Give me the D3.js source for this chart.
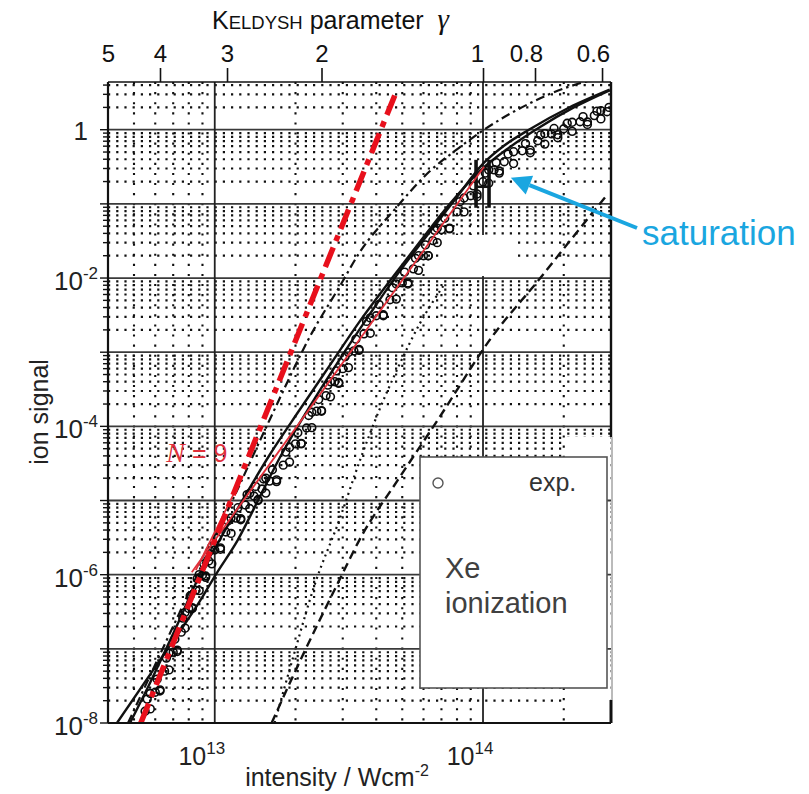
<!DOCTYPE html>
<html>
<head>
<meta charset="utf-8">
<script src="https://cdn.jsdelivr.net/npm/d3@7"></script>
<style>
  body { margin: 0; background: #fff; }
  svg { display: block; font-family: "Liberation Sans", Arial, sans-serif; }
</style>
</head>
<body>
<svg id="chart" width="809" height="794"></svg>
<script>
// ---- axis ranges and tick labels ----
const intensityDomain = [4e12, 3e14];          // W/cm^2
const signalDomain = [1e-8, 4.4];
const gammaTicks = [5, 4, 3, 2, 1, 0.8, 0.6];   // Keldysh parameter
const intensityLabels = [1e13, 1e14];
const signalLabels = [1, 1e-2, 1e-4, 1e-6, 1e-8];

// ---- experimental Xe ion yield (open circles) ----
// band centre
const expIntensity = [
  5.5e12, 5.75e12, 6.0e12, 6.25e12, 6.5e12, 6.75e12, 7.0e12, 7.25e12, 7.5e12, 7.75e12,
  8.0e12, 8.25e12, 8.5e12, 8.75e12, 9.0e12, 9.25e12, 9.5e12, 9.75e12, 1.0e13, 1.05e13,
  1.1e13, 1.15e13, 1.2e13, 1.25e13, 1.3e13, 1.35e13, 1.4e13, 1.45e13, 1.5e13, 1.55e13,
  1.6e13, 1.7e13, 1.8e13, 1.9e13, 2.0e13, 2.1e13, 2.2e13, 2.3e13, 2.4e13, 2.5e13,
  2.6e13, 2.7e13, 2.8e13, 2.9e13, 3.0e13, 3.15e13, 3.3e13, 3.45e13, 3.6e13, 3.8e13,
  4.0e13, 4.25e13, 4.5e13, 4.75e13, 5.0e13, 5.25e13, 5.5e13, 5.75e13, 6.0e13, 6.25e13,
  6.5e13, 6.75e13, 7.0e13, 7.5e13, 8.0e13, 8.5e13, 9.0e13, 9.5e13, 1.0e14, 1.05e14,
  1.1e14, 1.15e14, 1.2e14, 1.3e14, 1.4e14, 1.5e14, 1.6e14, 1.7e14, 1.8e14, 1.9e14,
  2.0e14, 2.15e14, 2.3e14, 2.45e14, 2.6e14, 2.75e14, 2.9e14
];
const expSignal = [
  1.44e-8, 2.5e-8, 2.6e-8, 2.7e-8, 5.0e-8, 8.7e-8, 9.0e-8, 9.2e-8, 1.68e-7, 3.1e-7,
  3.5e-7, 3.5e-7, 6.2e-7, 1.0e-6, 9.9e-7, 9.2e-7, 1.53e-6, 2.4e-6, 2.15e-6, 2.3e-6,
  3.76e-6, 5.8e-6, 5.8e-6, 5.7e-6, 8.7e-6, 1.25e-5, 1.15e-5, 1.03e-5, 1.43e-5, 2.0e-5,
  1.83e-5, 1.9e-5, 3.0e-5, 5.2e-5, 5.8e-5, 5.9e-5, 9.5e-5, 1.55e-4, 1.6e-4, 1.63e-4,
  2.6e-4, 4.0e-4, 4.0e-4, 3.9e-4, 6.0e-4, 9.9e-4, 1.04e-3, 1.09e-3, 1.77e-3, 2.9e-3,
  3.1e-3, 3.2e-3, 5.1e-3, 8.3e-3, 8.6e-3, 8.6e-3, 1.33e-2, 2.0e-2, 2.0e-2, 2.0e-2,
  3.2e-2, 4.7e-2, 4.5e-2, 4.7e-2, 7.8e-2, 0.12, 0.129, 0.136, 0.199, 0.287,
  0.288, 0.277, 0.37, 0.505, 0.52, 0.53, 0.71, 0.885, 0.88, 0.857,
  1.03, 1.26, 1.28, 1.27, 1.55, 1.81, 1.75
];
// upper edge of the band
const expUpperIntensity = [
  5.6e12, 6.1e12, 6.6e12, 7.1e12, 7.6e12, 8.1e12, 8.6e12, 9.1e12, 9.6e12, 1.02e13,
  1.12e13, 1.22e13, 1.32e13, 1.42e13, 1.52e13, 1.64e13, 1.84e13, 2.04e13, 2.24e13, 2.44e13,
  2.64e13, 2.84e13, 3.06e13, 3.36e13, 3.68e13, 4.1e13, 4.6e13, 5.1e13, 5.6e13, 6.1e13,
  6.6e13, 7.2e13, 8.2e13, 9.2e13, 1.02e14, 1.12e14, 1.24e14, 1.44e14, 1.64e14, 1.84e14,
  2.06e14, 2.36e14, 2.66e14, 2.95e14
];
const expUpperSignal = [
  2.1e-8, 3.9e-8, 7.5e-8, 1.35e-7, 2.6e-7, 5.2e-7, 8.8e-7, 1.4e-6, 2.1e-6, 3.1e-6,
  5.3e-6, 8.0e-6, 1.2e-5, 1.55e-5, 1.95e-5, 2.6e-5, 4.5e-5, 8.2e-5, 1.4e-4, 2.3e-4,
  3.6e-4, 5.6e-4, 8.7e-4, 1.5e-3, 2.6e-3, 4.4e-3, 7.4e-3, 1.2e-2, 1.85e-2, 2.8e-2,
  4.4e-2, 6.4e-2, 0.107, 0.175, 0.26, 0.36, 0.47, 0.65, 0.85, 1.04,
  1.22, 1.5, 1.78, 2.0
];
// lower edge of the band
const expLowerIntensity = [
  5.75e12, 6.25e12, 6.75e12, 7.25e12, 7.75e12, 8.25e12, 8.75e12, 9.25e12, 9.75e12, 1.05e13,
  1.15e13, 1.25e13, 1.35e13, 1.45e13, 1.55e13, 1.7e13, 1.9e13, 2.1e13, 2.3e13, 2.5e13,
  2.7e13, 2.9e13, 3.15e13, 3.45e13, 3.8e13, 4.25e13, 4.75e13, 5.25e13, 5.75e13, 6.25e13,
  6.75e13, 7.5e13, 8.5e13, 9.5e13, 1.05e14, 1.15e14, 1.3e14, 1.5e14, 1.7e14, 1.9e14,
  2.15e14, 2.45e14, 2.75e14
];
const expLowerSignal = [
  1.55e-8, 2.8e-8, 5.2e-8, 9.6e-8, 1.9e-7, 3.6e-7, 6.1e-7, 9.6e-7, 1.4e-6, 2.2e-6,
  3.6e-6, 5.5e-6, 7.8e-6, 1.0e-5, 1.26e-5, 1.8e-5, 3.3e-5, 5.8e-5, 9.6e-5, 1.6e-4,
  2.5e-4, 3.8e-4, 6.2e-4, 1.06e-3, 1.8e-3, 3.1e-3, 5.2e-3, 8.3e-3, 1.27e-2, 2.0e-2,
  3.0e-2, 4.6e-2, 7.8e-2, 0.125, 0.19, 0.26, 0.35, 0.49, 0.64, 0.78,
  0.95, 1.18, 1.4
];

// ---- theory curves: [intensity, signal] ----
const solidA = [
  [4.32e12, 1.0e-8], [6.24e12, 7.0e-8], [8.8e12, 4.4e-7], [1.017e13, 1.05e-6], [1.218e13, 2.93e-6],
  [1.47e13, 1.11e-5], [1.745e13, 3.75e-5], [2.255e13, 1.83e-4], [2.915e13, 7.9e-4], [3.77e13, 3.19e-3],
  [4.87e13, 1.21e-2], [6.30e13, 4.07e-2], [7.80e13, 0.110], [1.009e14, 0.359], [1.197e14, 0.608],
  [1.483e14, 1.0], [2.088e14, 1.98], [2.966e14, 3.47]
];
const solidB = [
  [4.83e12, 1.0e-8], [5.73e12, 3.44e-8], [7.10e12, 1.79e-7], [8.8e12, 9.9e-7], [1.017e13, 2.51e-6],
  [1.238e13, 8.7e-6], [1.601e13, 4.11e-5], [2.07e13, 1.66e-4], [2.676e13, 6.53e-4], [3.46e13, 2.56e-3],
  [4.47e13, 8.89e-3], [5.78e13, 2.99e-2], [7.47e13, 9.73e-2], [9.66e13, 0.271], [1.25e14, 0.572],
  [1.615e14, 1.064], [2.18e14, 2.0], [2.966e14, 3.4]
];
const dashDot = [
  [4.75e12, 1.0e-8], [5.73e12, 4.28e-8], [7.41e12, 3.13e-7], [9.58e12, 2.28e-6], [1.166e13, 1.02e-5],
  [1.601e13, 1.22e-4], [2.314e13, 1.88e-3], [2.915e13, 7.6e-3], [3.46e13, 2.19e-2], [4.67e13, 8.3e-2],
  [6.30e13, 0.271], [8.14e13, 0.571], [1.009e14, 1.0], [1.483e14, 2.24], [2.088e14, 3.8], [2.585e14, 4.73]
];
const dotted = [
  [1.671e13, 1.0e-8], [1.984e13, 9.0e-8], [2.354e13, 7.2e-7], [2.915e13, 5.5e-6], [3.46e13, 3.31e-5],
  [4.106e13, 1.66e-4], [4.87e13, 6.7e-4], [5.78e13, 2.34e-3], [7.16e13, 8.1e-3]
];
const dashed = [
  [1.629e13, 1.0e-8], [2.07e13, 6.62e-8], [2.915e13, 8.46e-7], [3.46e13, 2.93e-6], [4.87e13, 2.01e-5],
  [6.86e13, 1.30e-4], [1.080e14, 1.61e-3], [1.615e14, 9.46e-3], [2.275e14, 4.47e-2], [2.865e14, 0.125]
];

// ---- power-law guides (red) ----
const slope9Line = [[5.3e12, 1.0e-8], [4.75e13, 3.26]];
const fitLine = [[8.21e12, 1.08e-6], [1.009e14, 0.317]];
const tangentLine = [[8.5e12, 1.15e-6], [1.271e13, 2.14e-5]];
const orderLabelAt = [6.6e12, 3.3e-5];

// ---- saturation intensity marker ----
const satRange = [9.42e13, 1.053e14];
const satSignal = 0.17;
const satCaps = [0.0886, 0.393];
const saturationPoint = [1.27e14, 0.225];

// ---------------------------------------------------------------
const svg = d3.select("#chart");
const X0 = 108, X1 = 611, Y0 = 82, Y1 = 723;

const x = d3.scaleLog().domain(intensityDomain).range([X0, X1]);
const y = d3.scaleLog().domain(signalDomain).range([Y1, Y0]);
const gammaOf = I => Math.sqrt(1e14 / I);
const gScale = d3.scaleLog().domain(intensityDomain.map(gammaOf)).range([X0, X1]);

svg.append("defs").append("clipPath").attr("id", "plotClip")
  .append("rect").attr("x", X0).attr("y", Y0).attr("width", X1 - X0).attr("height", Y1 - Y0);

// ---- grid ----
const decadesX = [1e13, 1e14];
const minorX = [];
[1e12, 1e13, 1e14].forEach(dec => d3.range(2, 10).forEach(k => {
  const v = k * dec;
  if (v > intensityDomain[0] && v < intensityDomain[1] * 0.999) minorX.push(v);
}));
const decadesY = d3.range(-7, 1).map(e => Math.pow(10, e));
const minorY = [];
d3.range(-8, 1).forEach(e => d3.range(2, 10).forEach(k => {
  const v = k * Math.pow(10, e);
  if (v < signalDomain[1]) minorY.push(v);
}));

const grid = svg.append("g");
grid.selectAll("line.hm").data(minorY).join("line")
  .attr("x1", X0).attr("x2", X1).attr("y1", d => y(d)).attr("y2", d => y(d))
  .attr("stroke", "#111").attr("stroke-width", 2.2).attr("stroke-dasharray", "2.2,6");
grid.selectAll("line.vm").data(minorX).join("line")
  .attr("x1", d => x(d)).attr("x2", d => x(d)).attr("y1", Y0).attr("y2", Y1)
  .attr("stroke", "#111").attr("stroke-width", 2.1).attr("stroke-dasharray", "2.1,8");

// blank patch right of the legend
svg.append("rect").attr("fill", "#fff").attr("x", 567).attr("y", 437).attr("width", 43).attr("height", 284);

const solid = svg.append("g");
solid.selectAll("line.hd").data(decadesY).join("line")
  .attr("x1", X0).attr("x2", X1).attr("y1", d => y(d)).attr("y2", d => y(d))
  .attr("stroke", "#3a3a3a").attr("stroke-width", 1.8);
solid.selectAll("line.vd").data(decadesX).join("line")
  .attr("x1", d => x(d)).attr("x2", d => x(d)).attr("y1", Y0).attr("y2", Y1)
  .attr("stroke", "#222").attr("stroke-width", 1.8);
// blank patch near the saturation region
svg.append("rect").attr("fill", "#fff").attr("x", 440).attr("y", 235).attr("width", 77).attr("height", 41);

// ---- theory curves ----
const plot = svg.append("g").attr("clip-path", "url(#plotClip)");
const line = d3.line().x(d => x(d[0])).y(d => y(d[1])).curve(d3.curveMonotoneX);

plot.append("path").datum(dashed).attr("d", line).attr("fill", "none")
  .attr("stroke", "#111").attr("stroke-width", 2.4).attr("stroke-dasharray", "9,5");
plot.append("path").datum(dotted).attr("d", line).attr("fill", "none")
  .attr("stroke", "#111").attr("stroke-width", 2.2).attr("stroke-dasharray", "2,4");
plot.append("path").datum(dashDot).attr("d", line).attr("fill", "none")
  .attr("stroke", "#111").attr("stroke-width", 2.2).attr("stroke-dasharray", "9,4,2.5,4");
plot.append("path").datum(solidA).attr("d", line).attr("fill", "none")
  .attr("stroke", "#111").attr("stroke-width", 2.4);
plot.append("path").datum(solidB).attr("d", line).attr("fill", "none")
  .attr("stroke", "#111").attr("stroke-width", 2.4);

// ---- experimental points ----
const expData = expIntensity.map((v, i) => [v, expSignal[i]])
  .concat(expUpperIntensity.map((v, i) => [v, expUpperSignal[i]]))
  .concat(expLowerIntensity.map((v, i) => [v, expLowerSignal[i]]));
plot.append("g").selectAll("circle").data(expData).join("circle")
  .attr("cx", d => x(d[0])).attr("cy", d => y(d[1])).attr("r", 3.9)
  .attr("fill", "none").attr("stroke", "#0a0a0a").attr("stroke-width", 1.6);

// ---- saturation marker ----
const sat = plot.append("g").attr("stroke", "#111").attr("stroke-width", 3.6);
sat.append("line").attr("x1", x(satRange[0])).attr("x2", x(satRange[1]))
  .attr("y1", y(satSignal)).attr("y2", y(satSignal)).attr("stroke-width", 2.5);
sat.selectAll("line.cap").data(satRange).join("line")
  .attr("x1", d => x(d)).attr("x2", d => x(d))
  .attr("y1", y(satCaps[0])).attr("y2", y(satCaps[1]));

// ---- red power-law guides ----
const straight = d3.line().x(d => x(d[0])).y(d => y(d[1]));
plot.append("path").datum(fitLine).attr("d", straight)
  .attr("stroke", "#e0303a").attr("stroke-width", 1.8).attr("fill", "none");
plot.append("path").datum(tangentLine).attr("d", straight)
  .attr("stroke", "#e0303a").attr("stroke-width", 1.8).attr("fill", "none");
plot.append("path").datum(slope9Line).attr("d", straight)
  .attr("stroke", "#e8101c").attr("stroke-width", 5.5).attr("fill", "none")
  .attr("stroke-dasharray", "21,7,6,7");

svg.append("text").attr("x", x(orderLabelAt[0])).attr("y", y(orderLabelAt[1]))
  .attr("fill", "#e0303a").attr("font-size", 25)
  .call(t => {
    t.append("tspan").attr("font-family", "'Liberation Serif', serif").attr("font-style", "italic").attr("font-size", 28).text("N");
    t.append("tspan").text(" = 9");
  });

// ---- frame ----
const frame = svg.append("g").attr("fill", "none");
frame.append("line").attr("x1", X0).attr("x2", X1).attr("y1", Y0).attr("y2", Y0).attr("stroke", "#111").attr("stroke-width", 1.6);
frame.append("line").attr("x1", X0).attr("x2", X1).attr("y1", Y1).attr("y2", Y1).attr("stroke", "#111").attr("stroke-width", 2.2);
frame.append("line").attr("x1", X0).attr("x2", X0).attr("y1", Y0).attr("y2", Y1).attr("stroke", "#111").attr("stroke-width", 2.2);
frame.append("line").attr("x1", X1).attr("x2", X1).attr("y1", Y0).attr("y2", 437).attr("stroke", "#111").attr("stroke-width", 2.4);
frame.append("line").attr("x1", X1 + 1).attr("x2", X1 + 1).attr("y1", 437).attr("y2", 700).attr("stroke", "#777").attr("stroke-width", 1);
frame.append("line").attr("x1", X1).attr("x2", X1).attr("y1", 700).attr("y2", Y1).attr("stroke", "#111").attr("stroke-width", 3);

// ---- legend ----
const leg = svg.append("g");
leg.append("rect").attr("x", 420).attr("y", 457).attr("width", 187).attr("height", 231)
  .attr("fill", "#fff").attr("stroke", "#555").attr("stroke-width", 1.6);
leg.append("circle").attr("cx", 438).attr("cy", 483).attr("r", 5)
  .attr("fill", "#fff").attr("stroke", "#555").attr("stroke-width", 1.4);
leg.append("text").attr("x", 529).attr("y", 491).attr("font-size", 25).attr("fill", "#333").text("exp.");
leg.append("text").attr("x", 445).attr("y", 578).attr("font-size", 29).attr("fill", "#404040").text("Xe");
leg.append("text").attr("x", 445).attr("y", 613).attr("font-size", 29).attr("fill", "#404040").text("ionization");

// ---- top axis: Keldysh parameter ----
const labelShift = { 1: -6, 0.8: -9, 0.6: -9 };
const topAxis = svg.append("g").attr("transform", `translate(0,${Y0})`)
  .call(d3.axisTop(gScale).tickValues(gammaTicks).tickSize(14).tickSizeOuter(0).tickPadding(6)
    .tickFormat(d => String(d)));
topAxis.select(".domain").remove();
topAxis.selectAll(".tick line").attr("stroke", "#111").attr("stroke-width", 1.6);
topAxis.selectAll(".tick text").attr("font-size", 24).attr("fill", "#111")
  .attr("font-family", "'Liberation Sans', Arial, sans-serif")
  .attr("dx", d => labelShift[d] || 0);
topAxis.selectAll(".tick").filter(d => d === 5).select("line").remove();

const title = svg.append("text").attr("x", 212).attr("y", 29).attr("font-size", 25).attr("fill", "#111");
title.append("tspan").text("K");
title.append("tspan").attr("font-size", 18.5).text("ELDYSH");
title.append("tspan").text(" parameter");
title.append("tspan").attr("dx", 14).attr("font-family", "'Liberation Serif', serif").attr("font-style", "italic").attr("font-size", 29).text("γ");

// ---- left axis ----
const leftTicks = minorY.concat(decadesY, [1e-8]);
svg.append("g").selectAll("line").data(leftTicks).join("line")
  .attr("x1", X0).attr("x2", d => X0 - (Math.abs(Math.log10(d) - Math.round(Math.log10(d))) < 1e-6 ? 8 : 5))
  .attr("y1", d => y(d)).attr("y2", d => y(d))
  .attr("stroke", "#111").attr("stroke-width", 1.4);

const yl = svg.append("g").attr("font-size", 26).attr("fill", "#222");
signalLabels.forEach(v => {
  const e = Math.round(Math.log10(v));
  if (e === 0) {
    yl.append("text").attr("x", 88).attr("y", y(v) + 10).attr("text-anchor", "end").text("1");
  } else {
    const t = yl.append("text").attr("x", 98).attr("y", y(v) + 12).attr("text-anchor", "end");
    t.append("tspan").text("10");
    t.append("tspan").attr("dy", -11).attr("font-size", 17).text("-" + Math.abs(e));
  }
});
svg.append("text").attr("transform", `translate(48,${y(1.3e-4) - 6}) rotate(-90)`)
  .attr("text-anchor", "middle").attr("font-size", 25).attr("fill", "#222").text("ion signal");

// ---- bottom axis labels ----
const xl = svg.append("g").attr("font-size", 25).attr("fill", "#222");
intensityLabels.forEach(v => {
  const e = Math.round(Math.log10(v));
  const t = xl.append("text").attr("x", x(v) - 13).attr("y", 765).attr("text-anchor", "middle");
  t.append("tspan").text("10");
  t.append("tspan").attr("dy", -11).attr("font-size", 17).text(String(e));
});
const xt = svg.append("text").attr("x", 337).attr("y", 786).attr("text-anchor", "middle")
  .attr("font-size", 25).attr("fill", "#222");
xt.append("tspan").text("intensity / Wcm");
xt.append("tspan").attr("dy", -10).attr("font-size", 16).text("-2");

// ---- saturation annotation ----
const blue = "#1aa6e0";
const tipX = x(saturationPoint[0]), tipY = y(saturationPoint[1]);
const tailX = 637, tailY = 228;
const ang = Math.atan2(tipY - tailY, tipX - tailX);
const headLen = 20, headW = 10;
const bx = tipX - headLen * Math.cos(ang), by = tipY - headLen * Math.sin(ang);
svg.append("line").attr("x1", tailX).attr("y1", tailY).attr("x2", bx).attr("y2", by)
  .attr("stroke", blue).attr("stroke-width", 4);
svg.append("polygon").attr("fill", blue).attr("points", [
  [tipX, tipY],
  [bx + headW * Math.sin(ang), by - headW * Math.cos(ang)],
  [bx - headW * Math.sin(ang), by + headW * Math.cos(ang)]
].map(p => p.join(",")).join(" "));
svg.append("text").attr("x", 642).attr("y", 245).attr("font-size", 35).attr("fill", blue).text("saturation");
</script>
</body>
</html>
